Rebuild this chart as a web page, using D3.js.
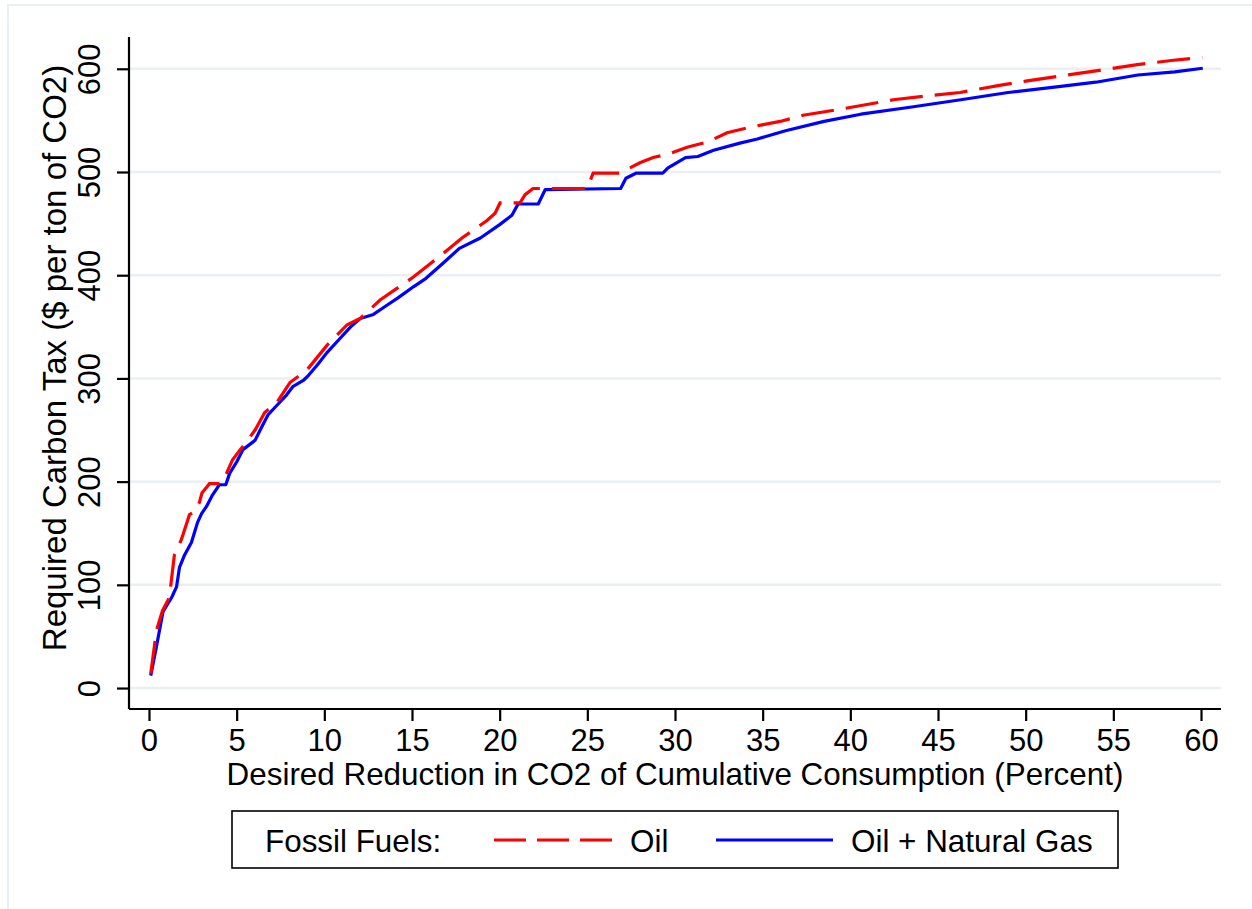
<!DOCTYPE html>
<html>
<head>
<meta charset="utf-8">
<script src="https://cdn.jsdelivr.net/npm/d3@7"></script>
<style>
  html, body { margin: 0; padding: 0; background: #ffffff; }
  svg { display: block; }
  text { font-family: "Liberation Sans", Arial, Helvetica, sans-serif; fill: #000; }
</style>
</head>
<body>
<svg id="chart" width="1252" height="909"></svg>
<script>
// ---- data ----
const oilX = [0.1,0.43,0.77,1.17,1.28,1.45,1.85,2.31,2.62,2.88,3.02,3.45,4.02,4.42,4.76,5.2,5.45,6.05,6.6,7.3,8.04,9.0,10.15,11.3,12.04,13.18,15.06,16.77,17.85,19.28,19.74,20.02,21.16,21.45,21.9,25.0,25.33,26.87,28.0,28.75,29.55,30.69,31.83,32.97,34.45,36,37.3,39.5,42.45,44.5,46.26,48.5,50,51.97,54,56.36,58.3,60.07];
const oilY = [14,56,75,88,105,129,144,168,171,180,189,198,198,208,221,231,236,250,267,277,296,308,332,352,358,376,398,421,436,453,460,470,470,478,484,484,499,499,509,514,517,524,529,538,544,549,555,561,570,574,577,584,588,593,598,604,608,611];

const gasX = [0.1,0.4,0.8,1.3,1.57,1.74,2.03,2.42,2.76,3.0,3.28,3.62,4.02,4.38,4.6,5.0,5.36,6.05,6.4,6.8,7.3,7.8,8.2,8.8,9.1,9.6,10.15,10.8,11.5,12.05,12.8,13.4,14.2,15.1,15.8,16.8,17.7,18.9,20.0,20.7,21.05,22.2,22.6,26.9,27.2,27.8,29.3,29.6,30.6,31.3,32.2,33.7,34.7,36.3,38.5,40.6,43.5,46.3,49,52,54,56.4,58.5,60.1];
const gasY = [12,38,74,88,98,117,129,141,160,169,176,187,197,197,208,219,231,240,252,265,274,283,292,298,303,313,325,337,350,358,362,369,378,389,397,412,426,436,449,458,469,469,483,484,494,499,499,504,514,515,521,528,532,540,549,556,563,570,577,583,587,594,597,600.5];

const xTicks = [0,5,10,15,20,25,30,35,40,45,50,55,60];
const yTicks = [0,100,200,300,400,500,600];

const xTitle = "Desired Reduction in CO2 of Cumulative Consumption (Percent)";
const yTitle = "Required Carbon Tax ($ per ton of CO2)";
const legendTitle = "Fossil Fuels:";
const seriesNames = ["Oil", "Oil + Natural Gas"];

// ---- layout ----
const svg = d3.select("#chart");
const plotL = 129, plotR = 1221, plotT = 37, plotB = 709;

const x = d3.scaleLinear().domain([-1.14, 61.14]).range([plotL, plotR]);
const y = d3.scaleLinear().domain([-20.3, 630.8]).range([plotB, plotT]);

// outer graph region outline
svg.append("rect")
  .attr("x", 8).attr("y", 5).attr("width", 1300).attr("height", 950)
  .attr("fill", "none").attr("stroke", "#e9eff3").attr("stroke-width", 2);

// gridlines
svg.append("g").selectAll("line").data(yTicks).join("line")
  .attr("x1", plotL).attr("x2", plotR)
  .attr("y1", d => y(d)).attr("y2", d => y(d))
  .attr("stroke", "#eaf0f2").attr("stroke-width", 2.5);

// y axis
const yAxis = d3.axisLeft(y).tickValues(yTicks).tickSize(12).tickPadding(0).tickFormat(d3.format("d"));
const gy = svg.append("g").attr("transform", `translate(${plotL},0)`).call(yAxis);
gy.select(".domain").attr("d", `M0,${plotT}V${plotB}`).attr("stroke", "#000").attr("stroke-width", 2.2);
gy.selectAll(".tick line").attr("stroke", "#000").attr("stroke-width", 2.2);
gy.selectAll(".tick text")
  .attr("x", null).attr("dy", null)
  .attr("transform", "translate(-29,0) rotate(-90)")
  .attr("text-anchor", "middle")
  .attr("dominant-baseline", "alphabetic")
  .style("font-size", "31px")
  .style("font-family", '"Liberation Sans", Arial, sans-serif');

// x axis
const xAxis = d3.axisBottom(x).tickValues(xTicks).tickSize(12).tickPadding(0).tickFormat(d3.format("d"));
const gx = svg.append("g").attr("transform", `translate(0,${plotB})`).call(xAxis);
gx.select(".domain").attr("d", `M${plotL},0H${plotR}`).attr("stroke", "#000").attr("stroke-width", 2.2);
gx.selectAll(".tick line").attr("stroke", "#000").attr("stroke-width", 2.2);
gx.selectAll(".tick text")
  .attr("y", 42).attr("dy", null)
  .attr("text-anchor", "middle")
  .style("font-size", "31px")
  .style("font-family", '"Liberation Sans", Arial, sans-serif');

// axis titles
svg.append("text")
  .attr("x", (plotL + plotR) / 2).attr("y", 785)
  .attr("text-anchor", "middle")
  .style("font-size", "31.4px")
  .text(xTitle);

svg.append("text")
  .attr("transform", `translate(66,358) rotate(-90)`)
  .attr("text-anchor", "middle")
  .style("font-size", "33px")
  .text(yTitle);

// lines
const line = d3.line().x(d => x(d[0])).y(d => y(d[1]));
const oilData = oilX.map((v, i) => [v, oilY[i]]);
const gasData = gasX.map((v, i) => [v, gasY[i]]);

svg.append("path").datum(gasData)
  .attr("d", line).attr("fill", "none")
  .attr("stroke", "#0000ff").attr("stroke-width", 3.2)
  .attr("stroke-linejoin", "round");

svg.append("path").datum(oilData)
  .attr("d", line).attr("fill", "none")
  .attr("stroke", "#ff0000").attr("stroke-width", 3.2)
  .attr("stroke-dasharray", "33,12");

// legend
const lg = svg.append("g");
lg.append("rect").attr("x", 232).attr("y", 811).attr("width", 886).attr("height", 57)
  .attr("fill", "#fff").attr("stroke", "#000").attr("stroke-width", 1.6);
lg.append("text").attr("x", 265).attr("y", 852).style("font-size", "31.4px").text(legendTitle);
lg.append("line").attr("x1", 494).attr("x2", 612).attr("y1", 840).attr("y2", 840)
  .attr("stroke", "#ff0000").attr("stroke-width", 3).attr("stroke-dasharray", "32,11");
lg.append("text").attr("x", 630).attr("y", 852).style("font-size", "31.4px").text(seriesNames[0]);
lg.append("line").attr("x1", 716).attr("x2", 833).attr("y1", 840).attr("y2", 840)
  .attr("stroke", "#0000ff").attr("stroke-width", 3);
lg.append("text").attr("x", 851).attr("y", 852).style("font-size", "31.4px").text(seriesNames[1]);
</script>
</body>
</html>
